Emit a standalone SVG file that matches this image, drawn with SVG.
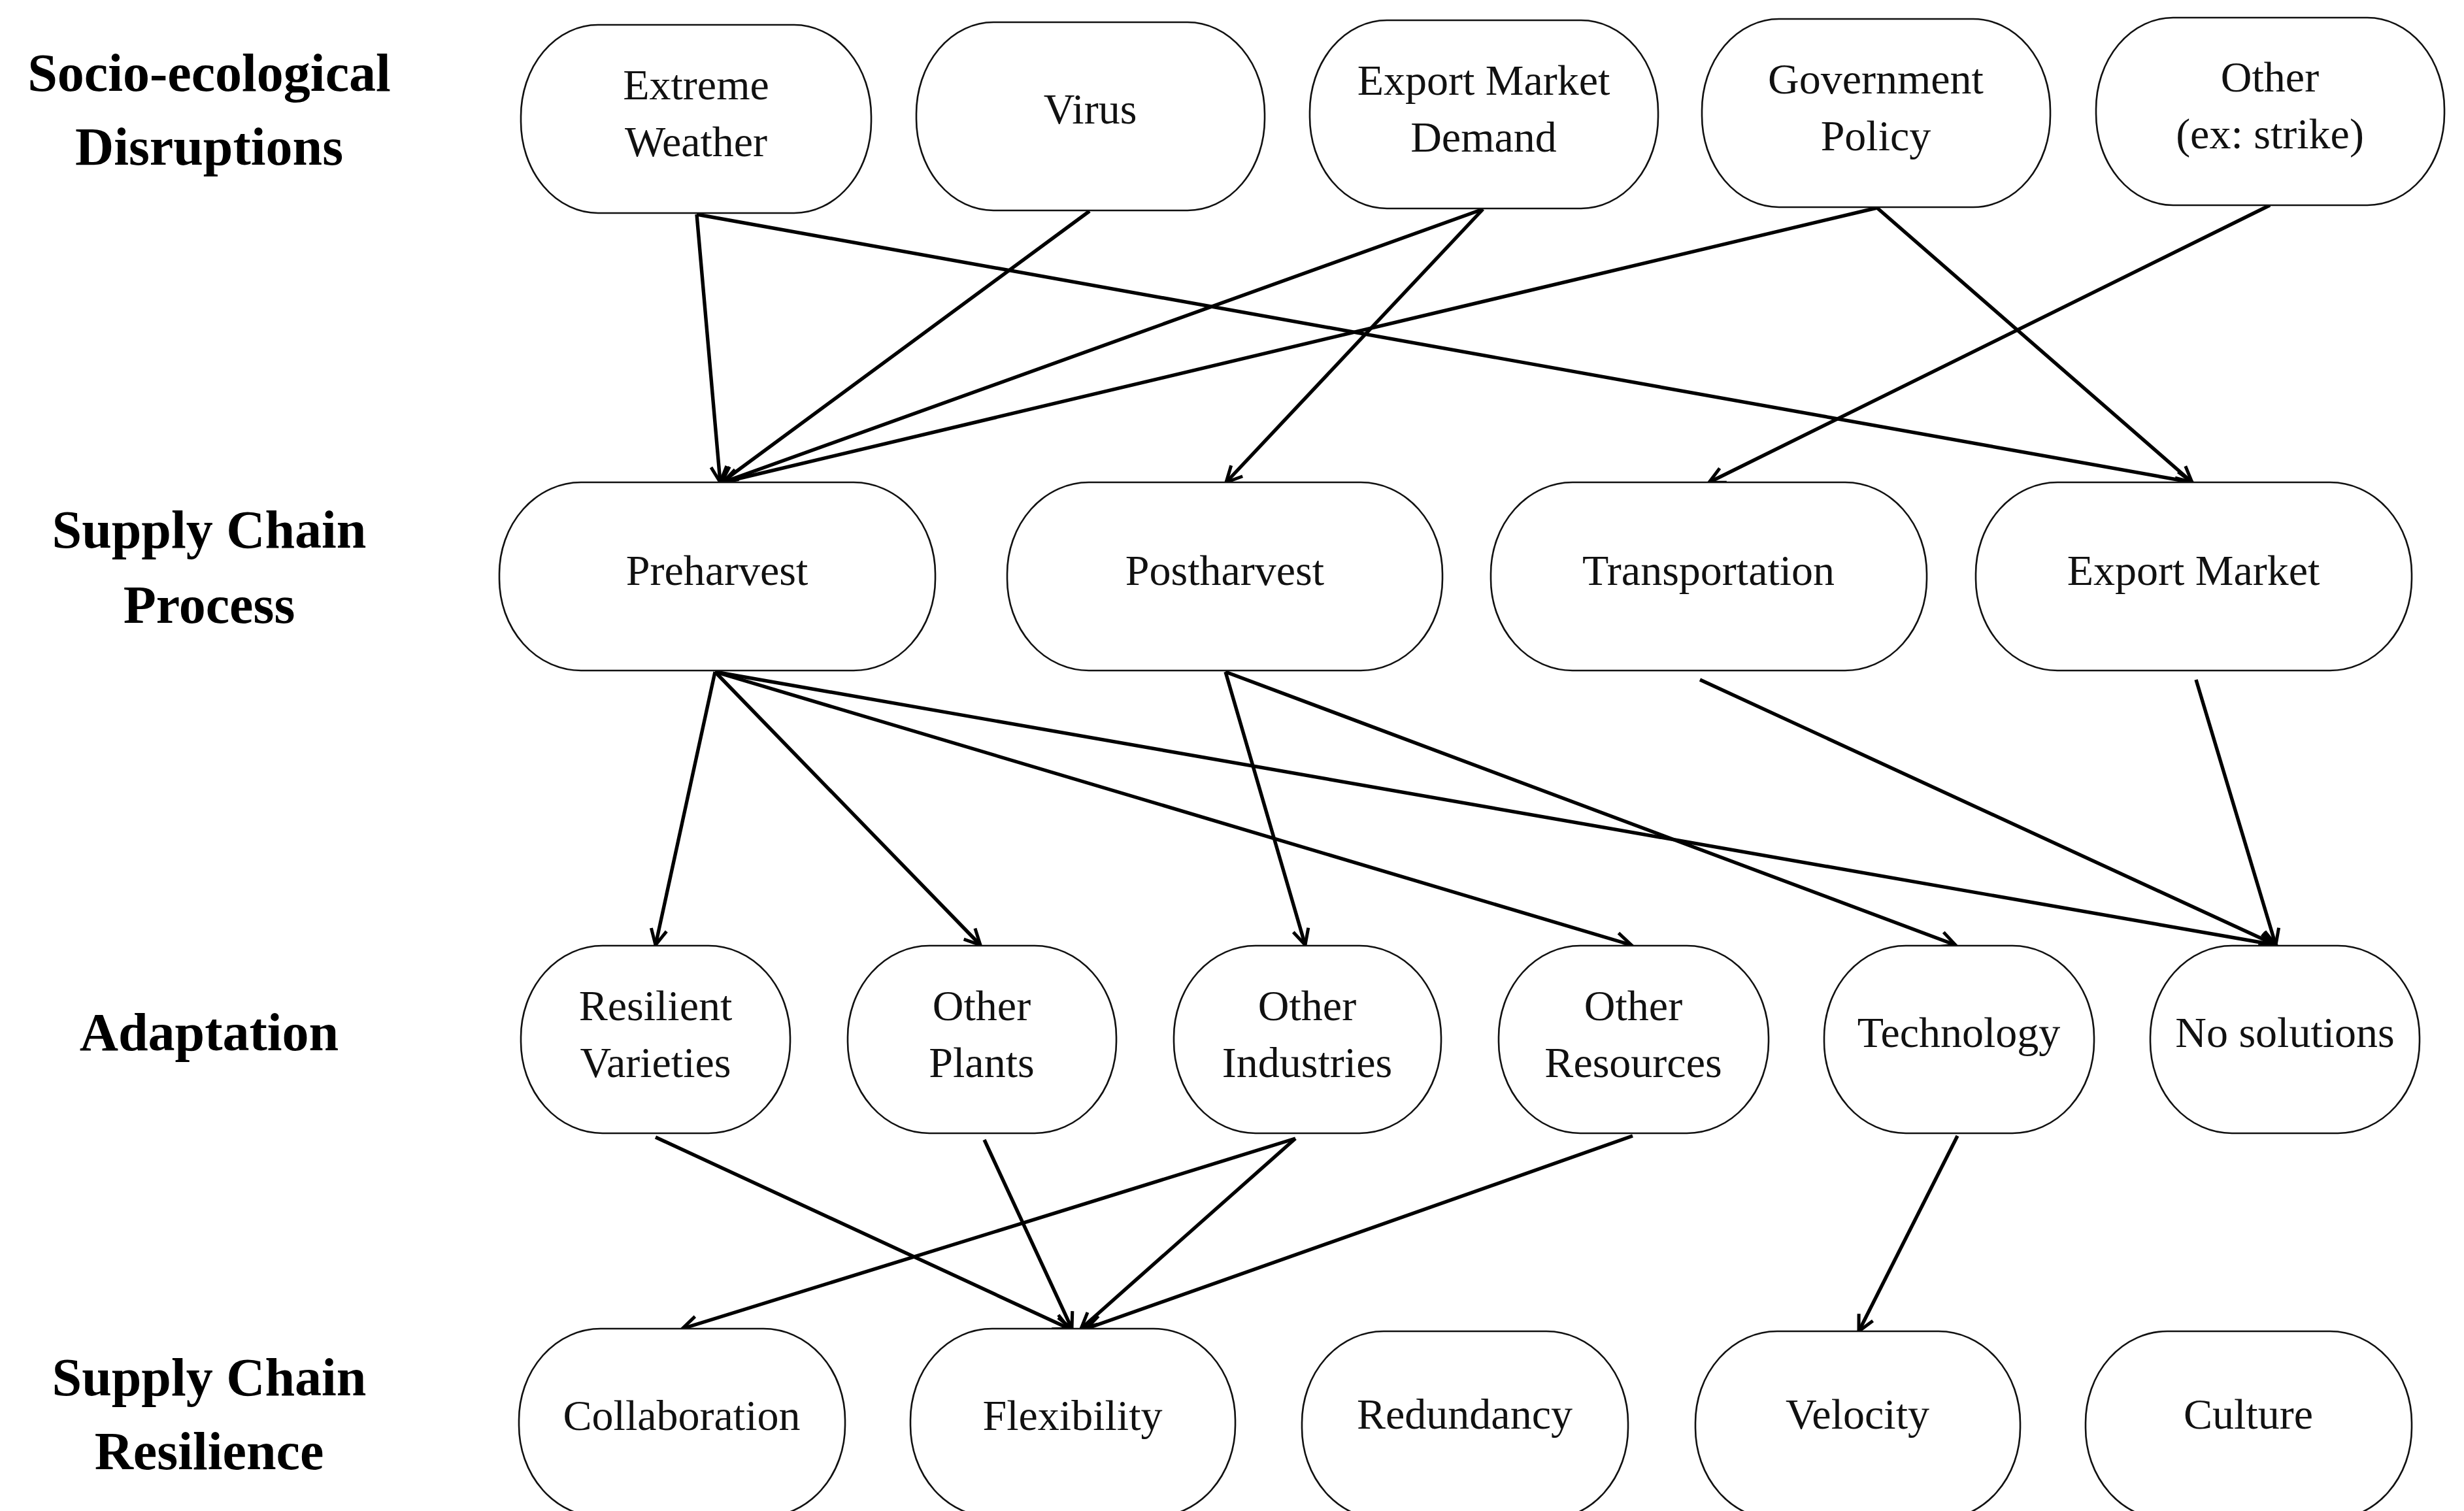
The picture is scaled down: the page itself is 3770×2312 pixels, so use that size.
<svg xmlns="http://www.w3.org/2000/svg" width="3770" height="2312" viewBox="0 0 3770 2312">
<style>
.bg{fill:#fff}
.n rect{fill:#fff;stroke:#111;stroke-width:2.6}
.n text,.t{font-family:"Liberation Serif","Times New Roman",serif;font-size:66px;fill:#111;text-anchor:middle}
.lab{font-family:"Liberation Serif","Times New Roman",serif;font-size:82px;font-weight:bold;fill:#000;text-anchor:middle}
.c line{stroke:#000;stroke-width:5.4;fill:none;marker-end:url(#ah)}
</style>
<defs>
<marker id="ah" markerUnits="userSpaceOnUse" markerWidth="34" markerHeight="34" refX="28" refY="17" orient="auto" viewBox="0 0 34 34">
<path d="M4,5 L28,17 L4,29" fill="none" stroke="#000" stroke-width="5"/>
</marker>
</defs>
<rect class="bg" x="0" y="0" width="3770" height="2312"/>

<g id="labels">
<text class="lab" x="320" y="139">Socio-ecological</text>
<text class="lab" x="320" y="252">Disruptions</text>
<text class="lab" x="320" y="838">Supply Chain</text>
<text class="lab" x="320" y="953">Process</text>
<text class="lab" x="320" y="1607">Adaptation</text>
<text class="lab" x="320" y="2135">Supply Chain</text>
<text class="lab" x="320" y="2248">Resilience</text>
</g>

<g id="connectors" class="c">
<line x1="1066" y1="328" x2="1102" y2="738"/>
<line x1="1066" y1="328" x2="3354" y2="738"/>
<line x1="1667" y1="323" x2="1104" y2="738"/>
<line x1="2269" y1="320" x2="1106" y2="738"/>
<line x1="2269" y1="320" x2="1876" y2="738"/>
<line x1="2872" y1="318" x2="1106" y2="738"/>
<line x1="2872" y1="318" x2="3354" y2="738"/>
<line x1="3473" y1="314" x2="2615" y2="738"/>

<line x1="1094" y1="1028" x2="1003" y2="1446"/>
<line x1="1094" y1="1028" x2="1500" y2="1446"/>
<line x1="1094" y1="1028" x2="2496" y2="1446"/>
<line x1="1094" y1="1028" x2="3482" y2="1446"/>
<line x1="1875" y1="1028" x2="1997" y2="1446"/>
<line x1="1875" y1="1028" x2="2992" y2="1446"/>
<line x1="2601" y1="1040" x2="3482" y2="1446"/>
<line x1="3360" y1="1040" x2="3482" y2="1446"/>

<line x1="1003" y1="1740" x2="1636" y2="2033"/>
<line x1="1506" y1="1744" x2="1640" y2="2033"/>
<line x1="1982" y1="1742" x2="1044" y2="2033"/>
<line x1="1982" y1="1742" x2="1654" y2="2033"/>
<line x1="2498" y1="1738" x2="1662" y2="2033"/>
<line x1="2995" y1="1738" x2="2844" y2="2037"/>
</g>

<g id="n-extreme-weather" class="n"><rect x="797" y="38" width="536" height="288" rx="118" ry="140"/><text x="1065" y="152">Extreme</text><text x="1065" y="239">Weather</text></g>
<g id="n-virus" class="n"><rect x="1402" y="34" width="533" height="288" rx="118" ry="140"/><text x="1668" y="189">Virus</text></g>
<g id="n-export-market-demand" class="n"><rect x="2004" y="31" width="533" height="288" rx="118" ry="140"/><text x="2270" y="145">Export Market</text><text x="2270" y="232">Demand</text></g>
<g id="n-government-policy" class="n"><rect x="2604" y="29" width="533" height="288" rx="118" ry="140"/><text x="2870" y="143">Government</text><text x="2870" y="230">Policy</text></g>
<g id="n-other" class="n"><rect x="3207" y="27" width="533" height="287" rx="118" ry="140"/><text x="3473" y="140">Other</text><text x="3473" y="227">(ex: strike)</text></g>

<g id="n-preharvest" class="n"><rect x="764" y="738" width="667" height="288" rx="125" ry="140"/><text x="1097" y="895">Preharvest</text></g>
<g id="n-postharvest" class="n"><rect x="1541" y="738" width="666" height="288" rx="125" ry="140"/><text x="1874" y="895">Postharvest</text></g>
<g id="n-transportation" class="n"><rect x="2281" y="738" width="667" height="288" rx="125" ry="140"/><text x="2614" y="895">Transportation</text></g>
<g id="n-export-market" class="n"><rect x="3023" y="738" width="667" height="288" rx="125" ry="140"/><text x="3356" y="895">Export Market</text></g>

<g id="n-resilient-varieties" class="n"><rect x="797" y="1447" width="412" height="287" rx="125" ry="140"/><text x="1003" y="1561">Resilient</text><text x="1003" y="1648">Varieties</text></g>
<g id="n-other-plants" class="n"><rect x="1297" y="1447" width="411" height="287" rx="125" ry="140"/><text x="1502" y="1561">Other</text><text x="1502" y="1648">Plants</text></g>
<g id="n-other-industries" class="n"><rect x="1796" y="1447" width="409" height="287" rx="125" ry="140"/><text x="2000" y="1561">Other</text><text x="2000" y="1648">Industries</text></g>
<g id="n-other-resources" class="n"><rect x="2293" y="1447" width="413" height="287" rx="125" ry="140"/><text x="2499" y="1561">Other</text><text x="2499" y="1648">Resources</text></g>
<g id="n-technology" class="n"><rect x="2791" y="1447" width="413" height="287" rx="125" ry="140"/><text x="2997" y="1602">Technology</text></g>
<g id="n-no-solutions" class="n"><rect x="3290" y="1447" width="412" height="287" rx="125" ry="140"/><text x="3496" y="1602">No solutions</text></g>

<g id="n-collaboration" class="n"><rect x="794" y="2033" width="499" height="288" rx="125" ry="140"/><text x="1043" y="2188">Collaboration</text></g>
<g id="n-flexibility" class="n"><rect x="1393" y="2033" width="497" height="288" rx="125" ry="140"/><text x="1641" y="2188">Flexibility</text></g>
<g id="n-redundancy" class="n"><rect x="1992" y="2037" width="499" height="288" rx="125" ry="140"/><text x="2241" y="2186">Redundancy</text></g>
<g id="n-velocity" class="n"><rect x="2594" y="2037" width="497" height="288" rx="125" ry="140"/><text x="2842" y="2186">Velocity</text></g>
<g id="n-culture" class="n"><rect x="3191" y="2037" width="499" height="288" rx="125" ry="140"/><text x="3440" y="2186">Culture</text></g>
</svg>
